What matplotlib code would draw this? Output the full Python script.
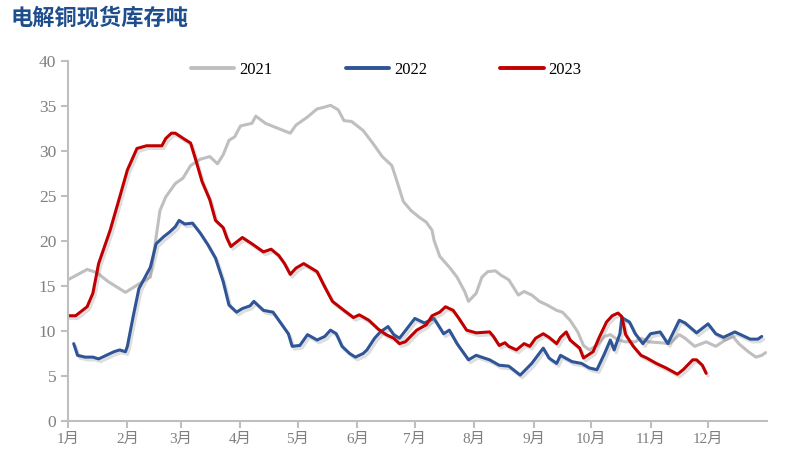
import matplotlib
matplotlib.use("Agg")
import matplotlib.pyplot as plt
import matplotlib.patheffects as pe

# day of year (0 = 1 Jan) and stock, 10k tonnes
days_2021 = [0, 10, 15, 21, 24, 30, 36, 43, 45, 48, 51, 56, 60, 64, 69, 74, 78, 81, 84, 87,
             90, 94, 96, 98, 103, 110, 116, 119, 125, 130, 133, 137, 141, 144, 148, 154,
             159, 164, 169, 171, 175, 179, 183, 187, 190, 191, 194, 199, 203, 207, 209,
             213, 216, 219, 223, 226, 230, 235, 238, 242, 246, 250, 255, 258, 262, 266,
             269, 272, 276, 280, 283, 287, 291, 296, 299, 303, 309, 314, 319, 322, 327,
             333, 338, 343, 347, 350, 355, 359, 362, 364]
vals_2021 = [15.7, 16.85, 16.5, 15.5, 15.1, 14.3, 15.1, 16.0, 19.0, 23.4, 24.9, 26.4, 27.0,
             28.4, 29.1, 29.4, 28.6, 29.6, 31.2, 31.6, 32.8, 33.0, 33.1, 33.9, 33.1, 32.5,
             32.0, 32.9, 33.8, 34.7, 34.85, 35.1, 34.6, 33.4, 33.3, 32.3, 30.9, 29.4, 28.4,
             27.1, 24.4, 23.4, 22.7, 22.1, 21.2, 20.1, 18.3, 17.1, 16.0, 14.4, 13.3, 14.2,
             16.0, 16.6, 16.7, 16.2, 15.7, 14.0, 14.4, 14.0, 13.3, 12.9, 12.3, 12.1, 11.2,
             9.9, 8.4, 7.9, 8.4, 9.4, 9.6, 9.0, 8.8, 8.8, 9.2, 8.8, 8.7, 8.6, 9.6, 9.2, 8.3,
             8.8, 8.3, 9.0, 9.4, 8.6, 7.7, 7.1, 7.3, 7.6]

days_2022 = [3, 5, 9, 13, 16, 20, 24, 27, 30, 31, 34, 37, 43, 46, 50, 53, 56, 58, 61, 65,
             69, 73, 77, 81, 84, 88, 91, 95, 97, 102, 107, 111, 115, 117, 121, 125, 130,
             134, 137, 140, 143, 147, 150, 154, 156, 160, 163, 167, 170, 173, 181, 186,
             191, 196, 199, 203, 209, 213, 220, 225, 230, 236, 242, 248, 251, 255, 257,
             263, 268, 272, 276, 280, 283, 285, 288, 289, 293, 296, 300, 304, 309, 313,
             319, 322, 328, 334, 338, 342, 348, 353, 356, 360, 362]
vals_2022 = [8.6, 7.3, 7.1, 7.1, 6.9, 7.3, 7.7, 7.9, 7.7, 8.3, 11.6, 14.7, 17.1, 19.7, 20.5,
             21.0, 21.6, 22.3, 21.9, 22.0, 20.9, 19.6, 18.1, 15.5, 12.9, 12.1, 12.5, 12.8,
             13.3, 12.3, 12.1, 10.9, 9.7, 8.3, 8.4, 9.6, 9.0, 9.4, 10.1, 9.7, 8.3, 7.5, 7.1,
             7.5, 7.9, 9.2, 9.9, 10.5, 9.6, 9.2, 11.4, 10.9, 11.4, 9.7, 10.1, 8.6, 6.8, 7.3,
             6.8, 6.2, 6.1, 5.1, 6.4, 8.1, 7.0, 6.4, 7.3, 6.6, 6.4, 5.9, 5.7, 7.5, 9.0, 7.9,
             9.7, 11.5, 11.0, 9.7, 8.6, 9.7, 9.9, 8.6, 11.2, 10.9, 9.8, 10.8, 9.7, 9.3, 9.9,
             9.4, 9.1, 9.1, 9.4]

days_2023 = [0, 4, 10, 13, 16, 22, 27, 31, 36, 41, 49, 51, 54, 56, 61, 64, 67, 70, 74, 77,
             81, 83, 85, 88, 91, 96, 102, 106, 110, 113, 116, 119, 123, 130, 134, 138, 144,
             149, 152, 157, 162, 166, 170, 173, 176, 182, 187, 190, 194, 197, 201, 204, 208,
             213, 220, 222, 225, 228, 230, 234, 238, 241, 244, 248, 251, 255, 257, 260, 262,
             267, 269, 274, 277, 281, 284, 287, 289, 291, 295, 299, 302, 307, 312, 318, 321,
             326, 328, 331, 333]
vals_2023 = [11.7, 11.7, 12.7, 14.2, 17.5, 21.2, 24.9, 27.9, 30.3, 30.6, 30.6, 31.4, 32.0,
             32.0, 31.3, 30.9, 28.8, 26.6, 24.6, 22.3, 21.5, 20.3, 19.4, 19.9, 20.4, 19.7,
             18.8, 19.1, 18.4, 17.5, 16.3, 17.0, 17.5, 16.6, 14.9, 13.3, 12.3, 11.5, 11.8,
             11.2, 10.2, 9.6, 9.2, 8.6, 8.8, 10.1, 10.7, 11.7, 12.1, 12.7, 12.3, 11.4, 10.1,
             9.8, 9.9, 9.4, 8.4, 8.7, 8.3, 7.9, 8.6, 8.3, 9.2, 9.7, 9.3, 8.6, 9.3, 9.9, 9.0,
             8.1, 7.0, 7.7, 9.2, 11.0, 11.7, 12.0, 11.6, 9.6, 8.3, 7.3, 7.0, 6.4, 5.9, 5.2,
             5.7, 6.8, 6.8, 6.2, 5.3]

month_starts = [0, 31, 59, 90, 120, 151, 181, 212, 243, 273, 304, 334]
month_labels = [f"{m}月" for m in range(1, 13)]

serif = ["Liberation Serif", "Noto Sans CJK SC"]
axis_gray = "#BFBFBF"
label_gray = "#7F7F7F"

fig = plt.figure(figsize=(7.94, 4.66), dpi=100)
ax = fig.add_axes([0.0856, 0.0966, 0.881, 0.772])

shadow = [pe.SimpleLineShadow(offset=(1.5, -2), shadow_color="#7F7F7F", alpha=0.25),
          pe.Normal()]
series = [(days_2021, vals_2021, "#BFBFBF", "2021", None),
          (days_2022, vals_2022, "#2F5597", "2022", shadow),
          (days_2023, vals_2023, "#C00000", "2023", shadow)]
for d, v, c, lab, fx in series:
    ax.plot(d, v, color=c, lw=2.2, label=lab, solid_joinstyle="round",
            solid_capstyle="round", path_effects=fx or [])

ax.set_xlim(0, 365)
ax.set_ylim(0, 40)
ax.set_yticks(range(0, 41, 5))
ax.set_xticks(month_starts)
ax.set_xticklabels(month_labels)

for s in ["top", "right"]:
    ax.spines[s].set_visible(False)
for s in ["left", "bottom"]:
    ax.spines[s].set_color(axis_gray)
    ax.spines[s].set_linewidth(1.5)
ax.tick_params(axis="both", colors=axis_gray, width=1.5, length=5, labelcolor=label_gray)
for t in ax.get_yticklabels():
    t.set_fontfamily(serif)
    t.set_fontsize(12.5)
for t in ax.get_xticklabels():
    t.set_fontfamily(serif)
    t.set_fontsize(11)

leg = ax.legend(loc="center", bbox_to_anchor=(0.455, 0.975), ncol=3, frameon=False,
                handlelength=2.6, handletextpad=0.3, columnspacing=4.4,
                prop={"family": serif, "size": 12})
for line in leg.get_lines():
    line.set_linewidth(2.8)
    line.set_path_effects([])

fig.text(0.013, 0.962, "电解铜现货库存吨", fontsize=16, fontweight="bold",
         color="#1F4E8C", family=["Noto Sans CJK SC"], va="center", ha="left")

fig.savefig("out.png", dpi=100)
